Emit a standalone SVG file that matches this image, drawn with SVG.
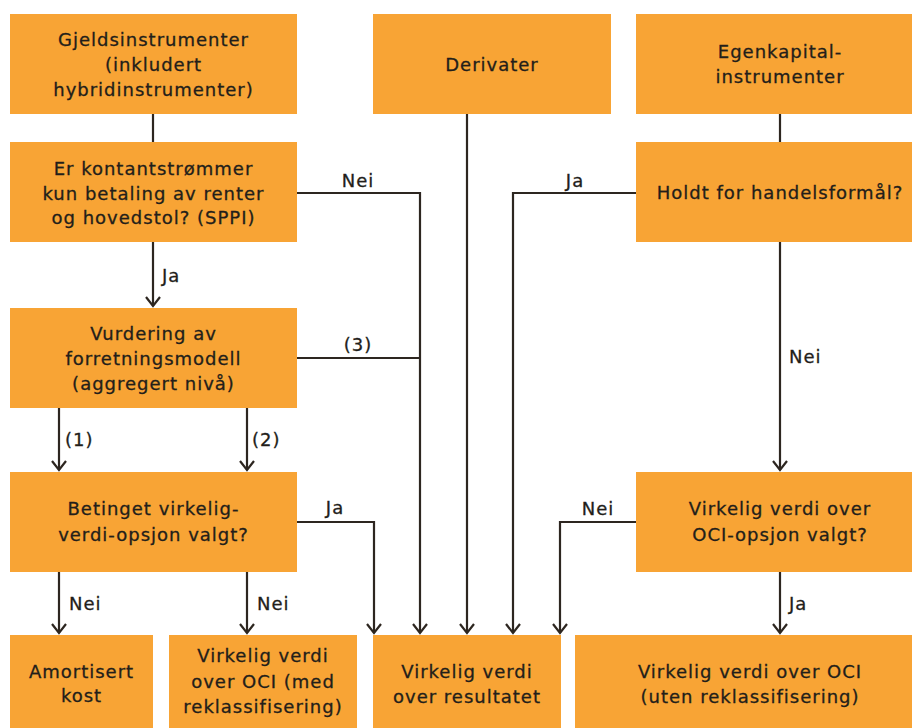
<svg xmlns="http://www.w3.org/2000/svg" width="912" height="728" viewBox="0 0 912 728">
<style>
.box{fill:#F8A435;}
.t{font-family:"DejaVu Sans","Liberation Sans",sans-serif;font-size:18px;letter-spacing:1px;fill:#231e1a;stroke:#231e1a;stroke-width:0.3;text-anchor:middle;}
.l{font-family:"DejaVu Sans","Liberation Sans",sans-serif;font-size:18px;letter-spacing:1px;fill:#231e1a;stroke:#231e1a;stroke-width:0.3;}
.c{fill:none;stroke:#2d2620;stroke-width:2.2;}
.a{marker-end:url(#arr);}
</style>
<defs>
<marker id="arr" markerUnits="userSpaceOnUse" markerWidth="20" markerHeight="20" viewBox="-12 -10 14 20" refX="0" refY="0" orient="auto">
<path d="M-9,-7 L0,0 L-9,7" fill="none" stroke="#2d2620" stroke-width="2.2"/>
</marker>
</defs>
<rect width="912" height="728" fill="#ffffff"/>

<g id="connectors">
<path class="c" d="M153,114 V142"/>
<path class="c" d="M780,114 V142"/>
<path class="c a" d="M153,242 V306"/>
<path class="c a" d="M297,193 H420 V633"/>
<path class="c" d="M297,358 H420"/>
<path class="c a" d="M467,114 V633"/>
<path class="c a" d="M636,193 H513 V633"/>
<path class="c a" d="M780,242 V470"/>
<path class="c a" d="M636,522 H560 V633"/>
<path class="c a" d="M780,572 V633"/>
<path class="c a" d="M59,408 V470"/>
<path class="c a" d="M247,408 V470"/>
<path class="c a" d="M297,522 H374 V633"/>
<path class="c a" d="M59,572 V633"/>
<path class="c a" d="M247,572 V633"/>
<text class="l" x="358" y="187" text-anchor="middle">Nei</text>
<text class="l" x="575" y="187" text-anchor="middle">Ja</text>
<text class="l" x="358" y="351" text-anchor="middle">(3)</text>
<text class="l" x="162" y="282">Ja</text>
<text class="l" x="65" y="446">(1)</text>
<text class="l" x="252" y="446">(2)</text>
<text class="l" x="335" y="514" text-anchor="middle">Ja</text>
<text class="l" x="69" y="610">Nei</text>
<text class="l" x="257" y="610">Nei</text>
<text class="l" x="598" y="515" text-anchor="middle">Nei</text>
<text class="l" x="789" y="363">Nei</text>
<text class="l" x="789" y="610">Ja</text>
</g>

<g id="gjeld">
<rect class="box" x="10" y="14" width="287" height="100"/>
<text class="t" x="153.5" y="46">Gjeldsinstrumenter</text>
<text class="t" x="153.5" y="71">(inkludert</text>
<text class="t" x="153.5" y="96">hybridinstrumenter)</text>
</g>
<g id="derivater">
<rect class="box" x="373" y="14" width="238" height="100"/>
<text class="t" x="492" y="71">Derivater</text>
</g>
<g id="egenkapital">
<rect class="box" x="636" y="14" width="276" height="100"/>
<text class="t" x="780" y="58">Egenkapital-</text>
<text class="t" x="780" y="83">instrumenter</text>
</g>
<g id="sppi">
<rect class="box" x="10" y="142" width="287" height="100"/>
<text class="t" x="153.5" y="175">Er kontantstrømmer</text>
<text class="t" x="153.5" y="200">kun betaling av renter</text>
<text class="t" x="153.5" y="224">og hovedstol? (SPPI)</text>
</g>
<g id="holdt">
<rect class="box" x="636" y="142" width="276" height="100"/>
<text class="t" x="780" y="199">Holdt for handelsformål?</text>
</g>
<g id="vurdering">
<rect class="box" x="10" y="308" width="287" height="100"/>
<text class="t" x="153.5" y="340">Vurdering av</text>
<text class="t" x="153.5" y="365">forretningsmodell</text>
<text class="t" x="153.5" y="390">(aggregert nivå)</text>
</g>
<g id="betinget">
<rect class="box" x="10" y="472" width="287" height="100"/>
<text class="t" x="153.5" y="515">Betinget virkelig-</text>
<text class="t" x="153.5" y="541">verdi-opsjon valgt?</text>
</g>
<g id="ociopsjon">
<rect class="box" x="636" y="472" width="276" height="100"/>
<text class="t" x="780" y="515">Virkelig verdi over</text>
<text class="t" x="780" y="541">OCI-opsjon valgt?</text>
</g>
<g id="amortisert">
<rect class="box" x="10" y="635" width="143" height="93"/>
<text class="t" x="81.5" y="678">Amortisert</text>
<text class="t" x="81.5" y="702">kost</text>
</g>
<g id="ocimed">
<rect class="box" x="169" y="635" width="188" height="93"/>
<text class="t" x="263" y="662">Virkelig verdi</text>
<text class="t" x="263" y="688">over OCI (med</text>
<text class="t" x="263" y="713">reklassifisering)</text>
</g>
<g id="resultatet">
<rect class="box" x="373" y="635" width="188" height="93"/>
<text class="t" x="467" y="678">Virkelig verdi</text>
<text class="t" x="467" y="703">over resultatet</text>
</g>
<g id="ociuten">
<rect class="box" x="575" y="635" width="337" height="93"/>
<text class="t" x="750" y="678">Virkelig verdi over OCI</text>
<text class="t" x="750" y="703">(uten reklassifisering)</text>
</g>
</svg>
